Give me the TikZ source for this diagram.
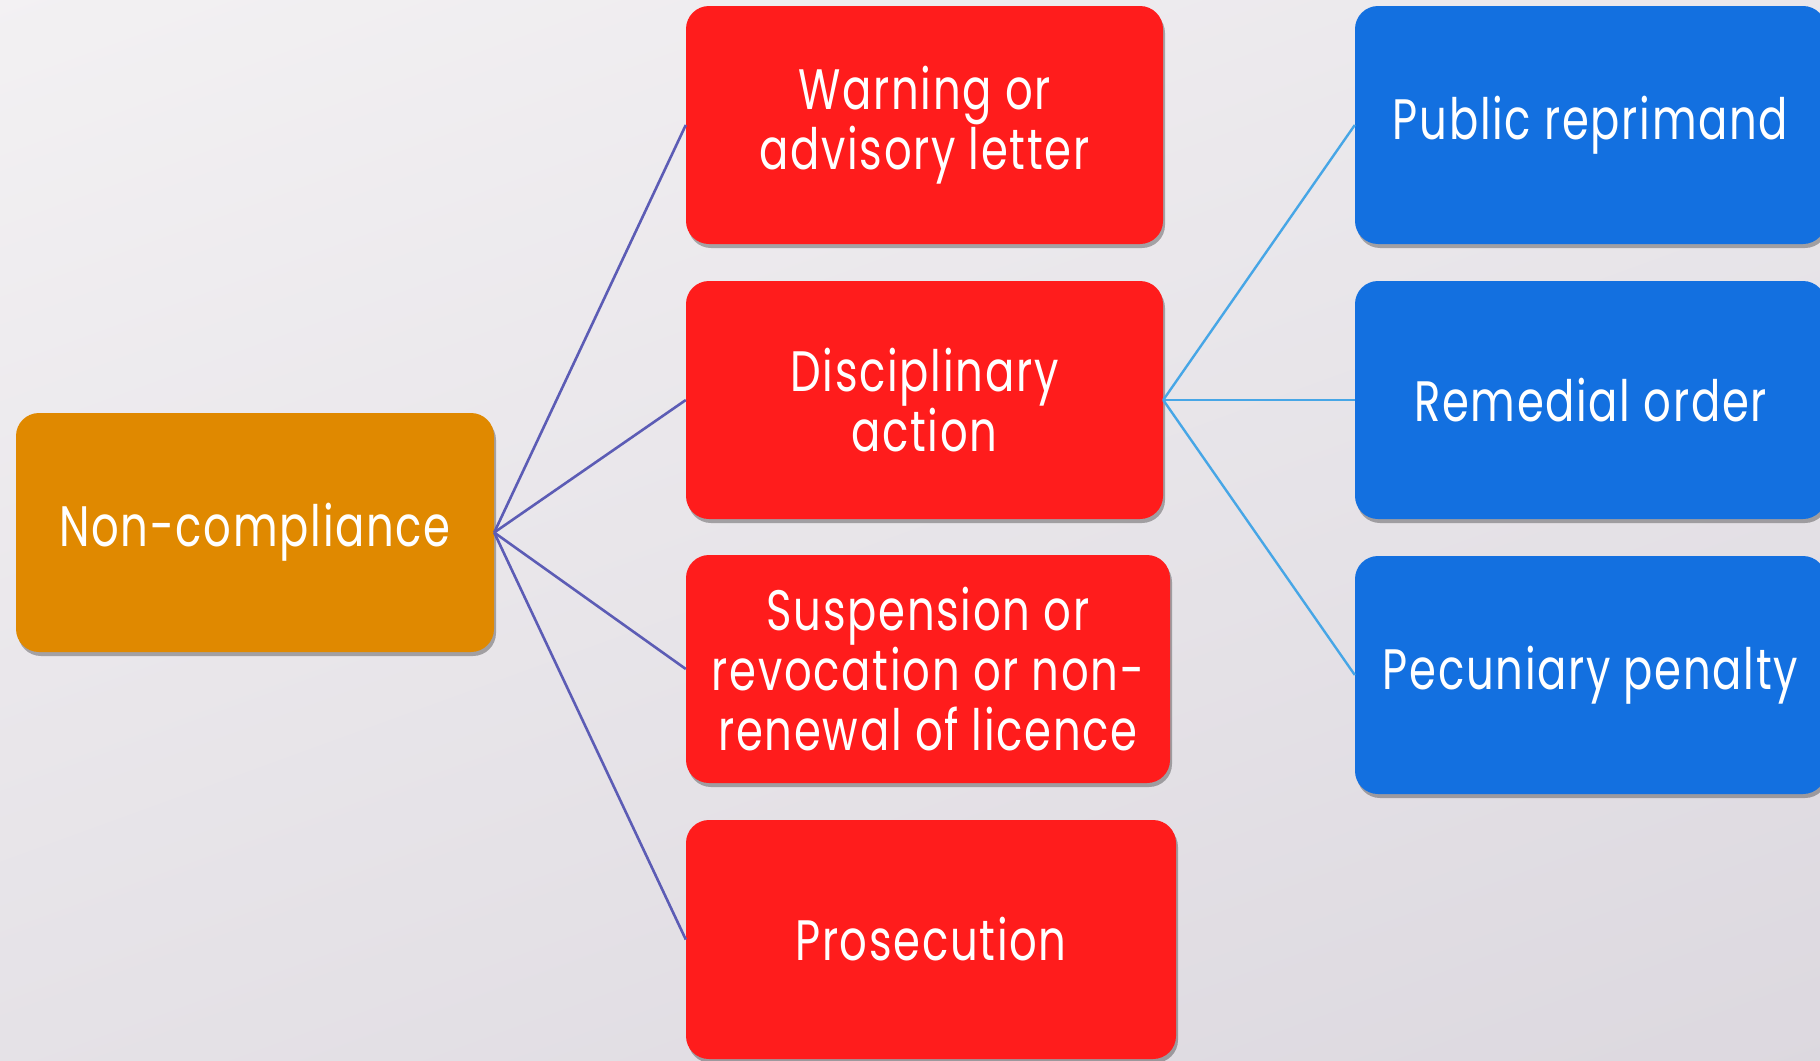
\documentclass[tikz,border=0pt]{standalone}
\usepackage{fontspec}
\newfontfamily\boxfont[FakeStretch=0.76, LetterSpace=3.0]{Poppins}
\usetikzlibrary{shadows}
\definecolor{bgtop}{HTML}{F3F1F3}
\definecolor{bgbot}{HTML}{DCD8DF}
\definecolor{ncorange}{HTML}{E08900}
\definecolor{actred}{HTML}{FF1C1C}
\definecolor{subblue}{HTML}{1370E0}
\definecolor{linepurple}{HTML}{5C5CB5}
\definecolor{lineblue}{HTML}{47A6E6}
\tikzset{
  box/.style={rounded corners=23pt, text=white, align=center, inner sep=0pt,
    font=\boxfont\fontsize{57}{60}\selectfont,
    drop shadow={shadow xshift=2pt, shadow yshift=-4pt, opacity=0.3, fill=black}},
  orangebox/.style={box, fill=ncorange},
  redbox/.style={box, fill=actred},
  bluebox/.style={box, fill=subblue},
  purpleline/.style={draw=linepurple, line width=2.6pt},
  blueline/.style={draw=lineblue, line width=2.4pt}
}
\begin{document}
\begin{tikzpicture}[x=1pt, y=-1pt]
\useasboundingbox (0,0) rectangle (1820,1060);
\clip (0,0) rectangle (1820,1060);
\shade[top color=bgtop, bottom color=bgbot, shading angle=20] (-200,-200) rectangle (2020,1260);

\node[orangebox, minimum width=478pt, minimum height=239pt] (nc) at (255,532.5) {Non-compliance};
\node[redbox, minimum width=477pt, minimum height=238pt] (warn) at (924.5,125) {Warning or\\advisory letter};
\node[redbox, minimum width=477pt, minimum height=238pt] (disc) at (924.5,400) {Disciplinary\\action};
\node[redbox, minimum width=484pt, minimum height=228pt] (susp) at (928,669) {Suspension or\\revocation or non-\\renewal of licence};
\node[redbox, minimum width=490pt, minimum height=239pt] (pros) at (931,939.5) {Prosecution};
\node[bluebox, minimum width=471pt, minimum height=238pt] (pub) at (1590.5,125) {Public reprimand};
\node[bluebox, minimum width=471pt, minimum height=238pt] (rem) at (1590.5,400) {Remedial order};
\node[bluebox, minimum width=471pt, minimum height=238pt] (pec) at (1590.5,675) {Pecuniary penalty};

\draw[purpleline] (nc.east) -- (warn.west);
\draw[purpleline] (nc.east) -- (disc.west);
\draw[purpleline] (nc.east) -- (susp.west);
\draw[purpleline] (nc.east) -- (pros.west);
\draw[blueline] (disc.east) -- (pub.west);
\draw[blueline] (disc.east) -- (rem.west);
\draw[blueline] (disc.east) -- (pec.west);
\end{tikzpicture}
\end{document}
